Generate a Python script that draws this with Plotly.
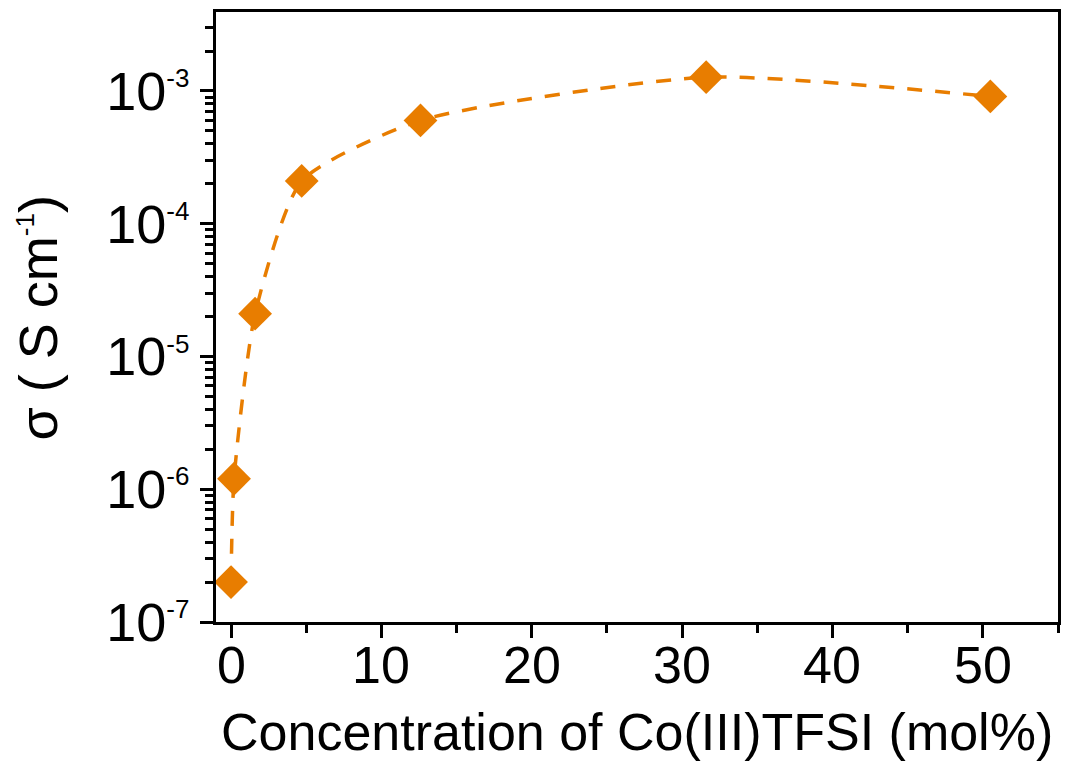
import plotly.graph_objects as go

conc = [0, 0.2, 1.6, 4.7, 12.6, 31.6, 50.5]
sigma = [2.0e-7, 1.2e-6, 2.1e-5, 2.1e-4, 6.0e-4, 1.27e-3, 9.1e-4]
ytick_vals = [1e-7, 1e-6, 1e-5, 1e-4, 1e-3]
ytick_exps = ["-7", "-6", "-5", "-4", "-3"]
xtick_vals = [0, 10, 20, 30, 40, 50]
xtick_text = ["0", "10", "20", "30", "40", "50"]

color = "#E87D00"
font = "Liberation Sans, Arial, sans-serif"

fig = go.Figure()
fig.add_trace(go.Scatter(
    x=conc, y=sigma, mode="lines+markers",
    line=dict(color=color, width=3.5, dash="15px,13px", shape="spline", smoothing=0.6),
    marker=dict(symbol="diamond", size=26, color=color),
    showlegend=False,
))

ticktext = [f'10<sup><span style="font-size:26px">{e}</span></sup>' for e in ytick_exps]

fig.update_layout(
    width=1071, height=761,
    margin=dict(l=216, r=13, t=12, b=139, autoexpand=False),
    paper_bgcolor="white", plot_bgcolor="white",
    font=dict(family=font, color="black", size=52),
)
fig.update_xaxes(
    range=[-1, 55], tickvals=xtick_vals, showticklabels=False,
    showgrid=False, zeroline=False,
    showline=True, linecolor="black", linewidth=2.5, mirror=True,
    ticks="outside", ticklen=13, tickwidth=2.5, tickcolor="black",
    minor=dict(dtick=5, tick0=0, ticks="outside", ticklen=8, tickwidth=2.5, tickcolor="black", showgrid=False),
    automargin=False,
)
fig.update_yaxes(
    type="log", range=[-7, -2.405], tickvals=ytick_vals, ticktext=ticktext,
    showgrid=False, zeroline=False, automargin=False,
    showline=True, linecolor="black", linewidth=2.5, mirror=True,
    ticks="outside", ticklen=13, tickwidth=2.5, tickcolor="black",
    minor=dict(dtick="D1", ticks="outside", ticklen=8, tickwidth=2.5, tickcolor="black", showgrid=False),
    tickfont=dict(size=54),
)
for xv, xt in zip(xtick_vals, xtick_text):
    fig.add_annotation(
        text=xt, xref="x", yref="paper", x=xv, y=0, xanchor="center", yanchor="middle",
        yshift=-43, showarrow=False, font=dict(size=52),
    )
fig.add_annotation(
    text="Concentration of Co(III)TFSI (mol%)", xref="paper", yref="paper",
    x=0.5, y=0, xanchor="center", yanchor="middle", yshift=-110,
    showarrow=False, font=dict(size=52),
)
fig.add_annotation(
    text='σ ( S cm<sup><span style="font-size:26px">-1</span></sup>)',
    xref="paper", yref="paper", x=-0.211, y=0.498, xanchor="center", yanchor="middle",
    textangle=-90, showarrow=False, font=dict(size=54),
)

fig.write_html("out.html")
